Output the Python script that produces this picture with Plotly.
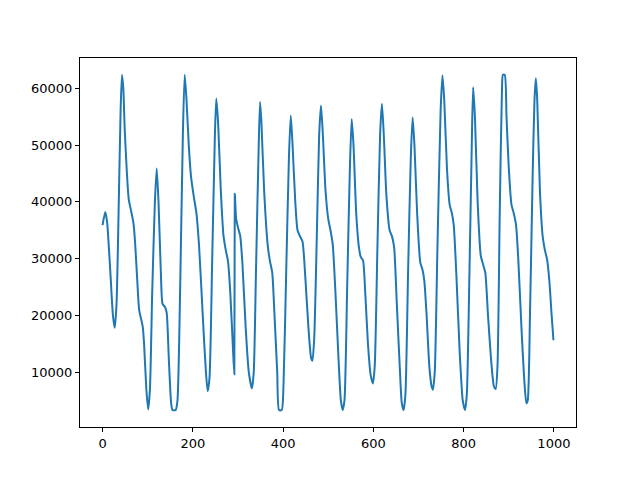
import plotly.graph_objects as go

x_vals = [0, 6, 10, 17, 23, 27, 31, 36, 40, 43, 46, 49, 54, 58, 63, 68, 72, 77, 81, 85, 89, 92, 97, 101,
          105, 110, 116, 120, 124, 129, 133, 138, 142, 147, 152, 155, 162, 166, 172, 178, 182, 186, 191,
          196, 202, 208, 214, 222, 229, 233, 237, 243, 249, 252, 256, 262, 268, 273, 278, 283, 289, 292,
          293, 296, 300, 305, 310, 317, 324, 331, 335, 340, 346, 349, 352, 358, 366, 371, 376, 381, 387,
          391, 397, 401, 407, 413, 417, 421, 427, 432, 437, 443, 449, 456, 462, 465, 469, 475, 480, 484,
          488, 494, 500, 505, 510, 516, 523, 528, 532, 536, 542, 548, 552, 556, 562, 568, 572, 577, 582,
          588, 594, 599, 603, 609, 615, 619, 623, 629, 636, 641, 646, 652, 659, 663, 667, 671, 677, 683,
          687, 691, 697, 704, 709, 713, 718, 724, 729, 732, 736, 742, 749, 753, 757, 763, 769, 774, 778,
          784, 791, 798, 803, 807, 813, 818, 821, 825, 831, 838, 843, 848, 854, 861, 867, 871, 875, 880,
          885, 887, 891, 895, 900, 906, 911, 916, 921, 928, 934, 939, 942, 947, 953, 957, 960, 963, 969,
          975, 980, 985, 990, 995, 999]
y_vals = [35900, 38200, 36500, 28000, 20000, 17800, 22000, 40000, 56000, 62400, 60000, 53000, 45000, 40500,
          38500, 36500, 33000, 26000, 21000, 19500, 18000, 15000, 7000, 3400,
          7000, 24000, 40000, 45900, 40000, 28000, 22000, 21500, 20500, 12000, 4500, 3300, 3300, 5000,
          25000, 52000, 62400, 58000, 50000,
          44500, 41000, 38000, 32000, 20000, 10000, 6600, 9000, 30000, 52000, 58200, 54000, 42000, 34000,
          31500, 29500, 24000, 14000, 9600,
          41400, 37000, 35500, 34000, 29000, 18000, 10000, 7100, 10000, 28000, 50000, 57600, 54000, 42000,
          32300, 29500, 27500, 20000, 10000,
          3300, 3300, 8000, 28000, 48000, 55200, 50000, 40000, 35000, 34000, 33000, 27000, 18000, 12500,
          12000, 16000, 35000, 52000, 57000,
          52000, 42000, 37000, 35000, 32500, 24000, 12000, 5000, 3300, 5000, 25000, 46000, 54600, 50000,
          38000, 32000, 30300, 29700, 24000,
          15000, 9500, 8000, 11000, 32000, 52000, 57300, 52000, 41000, 35000, 34000, 32000, 22000, 10000,
          4500, 3300, 6000, 28000, 48000,
          54900, 50000, 38000, 29300, 28000, 26000, 20000, 11000, 7500, 6900, 10000, 32000, 56000, 62300,
          58000, 46000, 39500, 38000, 36000,
          27000, 14000, 5000, 3300, 6000, 28000, 50000, 60200, 55000, 40000, 30500, 29000, 27500, 20000,
          12000, 7500, 7000, 11000, 38000,
          60000, 62400, 62400, 55000, 46000, 39500, 38000, 36000, 30000, 18000, 9000, 4500, 5000, 20000,
          45000, 58000, 61800, 58000, 42000,
          34000, 31500, 29800, 26000, 20000, 15600]

x_ticks = [0, 200, 400, 600, 800, 1000]
y_ticks = [10000, 20000, 30000, 40000, 50000, 60000]

fig = go.Figure()
fig.add_trace(go.Scatter(x=x_vals, y=y_vals, mode="lines",
                         line=dict(color="#1f77b4", width=2, shape="spline", smoothing=0.6)))

axis_common = dict(showline=True, linecolor="black", linewidth=1, mirror=True,
                   ticks="outside", ticklen=4, tickcolor="black", tickwidth=1,
                   showgrid=False, zeroline=False,
                   tickfont=dict(family="DejaVu Sans", size=13, color="black"))

fig.update_layout(
    width=640, height=480,
    margin=dict(l=72, r=72, t=50, b=61),
    paper_bgcolor="white", plot_bgcolor="white",
    showlegend=False,
    xaxis=dict(range=[-49.95, 1048.95], tickvals=x_ticks, ticktext=[str(v) for v in x_ticks], **axis_common),
    yaxis=dict(range=[314, 65356], tickvals=y_ticks, ticktext=[str(v) for v in y_ticks], **axis_common),
)

fig.write_html("out.html")
